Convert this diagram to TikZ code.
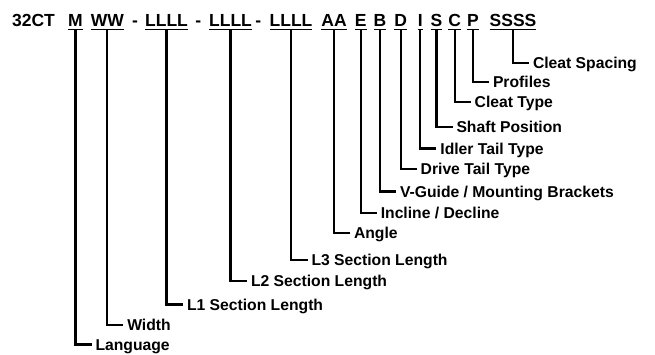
\documentclass[tikz,border=0pt]{standalone}
\usepackage{fontspec}
\setmainfont{Liberation Sans}
\begin{document}
\begin{tikzpicture}[x=1pt,y=-1pt,
  tok/.style={font=\fontsize{17.5}{19}\selectfont\bfseries, inner sep=0pt, outer sep=0pt, anchor=base},
  lab/.style={font=\fontsize{15.7}{17}\selectfont\bfseries, inner xsep=4pt, inner ysep=0pt, outer sep=0pt, text height=11pt, text depth=0pt, anchor=west},
  conn/.style={line width=2.1pt},
  uline/.style={line width=1.5pt}]
\useasboundingbox (0,0) rectangle (655,354);
% code string
\node[tok] (t0) at (33.5,26.5) {32CT};
\node[tok] (tM) at (75.5,26.5) {M};
\node[tok] (tW) at (107.3,26.5) {WW};
\node[tok] (d1) at (135,26.5) {-};
\node[tok] (tL1) at (166.5,26.5) {LLLL};
\node[tok] (d2) at (198.3,26.5) {-};
\node[tok] (tL2) at (230.5,26.5) {LLLL};
\node[tok] (d3) at (258.3,26.5) {-};
\node[tok] (tL3) at (291,26.5) {LLLL};
\node[tok] (tA) at (334,26.5) {AA};
\node[tok] (tE) at (360.8,26.5) {E};
\node[tok] (tB) at (380,26.5) {B};
\node[tok] (tD) at (400.7,26.5) {D};
\node[tok] (tI) at (420.4,26.5) {I};
\node[tok] (tS) at (436.5,26.5) {S};
\node[tok] (tC) at (454.7,26.5) {C};
\node[tok] (tP) at (473,26.5) {P};
\node[tok] (tSS) at (513,26.5) {SSSS};
% labels
\node[lab] (lCS) at (529,63) {Cleat Spacing};
\node[lab] (lPr) at (489,82) {Profiles};
\node[lab] (lCT) at (470.7,102) {Cleat Type};
\node[lab] (lSP) at (452.5,127) {Shaft Position};
\node[lab] (lIT) at (436.4,148.5) {Idler Tail Type};
\node[lab] (lDT) at (416.7,169) {Drive Tail Type};
\node[lab] (lVG) at (396,191.5) {V-Guide / Mounting Brackets};
\node[lab] (lID) at (376.8,213.3) {Incline / Decline};
\node[lab] (lAn) at (350,233) {Angle};
\node[lab] (lL3) at (307.5,260) {L3 Section Length};
\node[lab] (lL2) at (247,281) {L2 Section Length};
\node[lab] (lL1) at (183,304.5) {L1 Section Length};
\node[lab] (lWi) at (123.3,325) {Width};
\node[lab] (lLa) at (91.5,344.5) {Language};
% underlines
\foreach \t in {tM,tW,tL1,tL2,tL3,tA,tE,tB,tD,tI,tS,tC,tP,tSS}
  \draw[uline] ([yshift=-3pt]\t.base west) -- ([yshift=-3pt]\t.base east);
% connectors
\draw[conn] ([yshift=-3pt]tM.base) |- (lLa.west);
\draw[conn] ([yshift=-3pt]tW.base) |- (lWi.west);
\draw[conn] ([yshift=-3pt]tL1.base) |- (lL1.west);
\draw[conn] ([yshift=-3pt]tL2.base) |- (lL2.west);
\draw[conn] ([yshift=-3pt]tL3.base) |- (lL3.west);
\draw[conn] ([yshift=-3pt]tA.base) |- (lAn.west);
\draw[conn] ([yshift=-3pt]tE.base) |- (lID.west);
\draw[conn] ([yshift=-3pt]tB.base) |- (lVG.west);
\draw[conn] ([yshift=-3pt]tD.base) |- (lDT.west);
\draw[conn] ([yshift=-3pt]tI.base) |- (lIT.west);
\draw[conn] ([yshift=-3pt]tS.base) |- (lSP.west);
\draw[conn] ([yshift=-3pt]tC.base) |- (lCT.west);
\draw[conn] ([yshift=-3pt]tP.base) |- (lPr.west);
\draw[conn] ([yshift=-3pt]tSS.base) |- (lCS.west);
\end{tikzpicture}
\end{document}
